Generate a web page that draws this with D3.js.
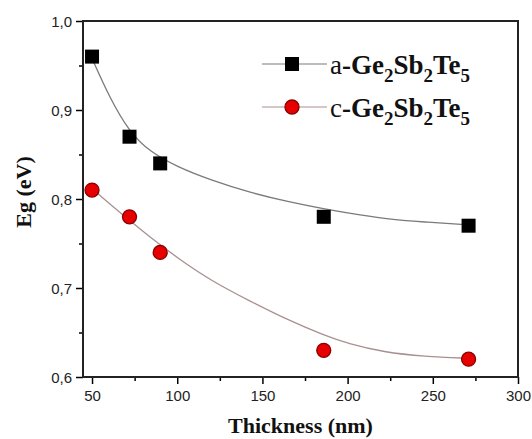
<!DOCTYPE html>
<html lang="en">
<head>
<meta charset="UTF-8">
<title>Eg vs thickness</title>
<script src="https://d3js.org/d3.v7.min.js"></script>
<style>
  body { margin: 0; background: #fff; }
  .tick text { font: 15px "Liberation Sans", Arial, sans-serif; fill: #222; }
  .axis-title { font: bold 22px "Liberation Serif", "Times New Roman", serif; fill: #111; }
  .legend text { font: bold 27px "Liberation Serif", "Times New Roman", serif; fill: #111; }
</style>
</head>
<body>
<div id="chart"></div>
<script>
// measured points
var thickness = [50, 72, 90, 186, 271];
var egAmorphous = [0.96, 0.87, 0.84, 0.78, 0.77];
var egCrystal = [0.81, 0.78, 0.74, 0.63, 0.62];

// fitted curves
var fitThickness = [50, 60, 72, 84, 100, 120, 143, 165, 186, 201, 221, 245, 271];
var fitAmorphous = [0.958, 0.915, 0.875, 0.853, 0.836, 0.821, 0.807, 0.797, 0.789, 0.784, 0.778, 0.774, 0.771];
var fitCrystal = [0.812, 0.795, 0.776, 0.757, 0.734, 0.708, 0.685, 0.664, 0.647, 0.637, 0.628, 0.623, 0.621];

var xTicks = [50, 100, 150, 200, 250, 300];
var yTicks = [0.6, 0.7, 0.8, 0.9, 1.0];

var width = 532, height = 439;
var margin = { top: 21, right: 14, bottom: 62, left: 83 };

var svg = d3.select("#chart").append("svg")
    .attr("width", width)
    .attr("height", height);

var x = d3.scaleLinear().domain([44.7, 300]).range([margin.left, width - margin.right]);
var y = d3.scaleLinear().domain([0.6, 1.0]).range([height - margin.bottom, margin.top]);

var fmt = function(d) { return d3.format(".1f")(d).replace(".", ","); };

// minor ticks
var xMinor = xTicks.slice(0, -1).map(function(d) { return d + 25; });
var yMinor = yTicks.slice(0, -1).map(function(d) { return d + 0.05; });

svg.append("g")
    .attr("transform", "translate(0," + y.range()[0] + ")")
    .call(d3.axisBottom(x).tickValues(xMinor).tickSize(4).tickFormat(""))
    .call(function(g) { g.select(".domain").remove(); g.selectAll("line").attr("stroke-width", 1.5); });

svg.append("g")
    .attr("transform", "translate(" + x.range()[0] + ",0)")
    .call(d3.axisLeft(y).tickValues(yMinor).tickSize(4).tickFormat(""))
    .call(function(g) { g.select(".domain").remove(); g.selectAll("line").attr("stroke-width", 1.5); });

var xAxis = svg.append("g")
    .attr("transform", "translate(0," + y.range()[0] + ")")
    .call(d3.axisBottom(x).tickValues(xTicks).tickSize(7).tickPadding(6).tickSizeOuter(0));
xAxis.select(".domain").remove();
xAxis.selectAll("line").attr("stroke-width", 1.5);

var yAxis = svg.append("g")
    .attr("transform", "translate(" + x.range()[0] + ",0)")
    .call(d3.axisLeft(y).tickValues(yTicks).tickSize(7).tickPadding(4).tickFormat(fmt).tickSizeOuter(0));
yAxis.select(".domain").remove();
yAxis.selectAll("line").attr("stroke-width", 1.5);
yAxis.selectAll("text").attr("dy", "0.36em");

// frame
svg.append("rect")
    .attr("x", x.range()[0])
    .attr("y", y.range()[1])
    .attr("width", x.range()[1] - x.range()[0])
    .attr("height", y.range()[0] - y.range()[1])
    .attr("fill", "none")
    .attr("stroke", "#222")
    .attr("stroke-width", 2);

// fit lines
var line = d3.line()
    .x(function(d) { return x(d[0]); })
    .y(function(d) { return y(d[1]); })
    .curve(d3.curveBasis);

svg.append("path")
    .datum(d3.zip(fitThickness, fitAmorphous))
    .attr("d", line)
    .attr("fill", "none")
    .attr("stroke", "#7a7a7a")
    .attr("stroke-width", 1.3);

svg.append("path")
    .datum(d3.zip(fitThickness, fitCrystal))
    .attr("d", line)
    .attr("fill", "none")
    .attr("stroke", "#a99090")
    .attr("stroke-width", 1.3);

// markers
var sq = 14;
svg.selectAll("rect.a")
    .data(d3.zip(thickness, egAmorphous))
    .enter().append("rect")
    .attr("class", "a")
    .attr("x", function(d) { return x(d[0]) - sq / 2; })
    .attr("y", function(d) { return y(d[1]) - sq / 2; })
    .attr("width", sq)
    .attr("height", sq)
    .attr("fill", "#000");

svg.selectAll("circle.c")
    .data(d3.zip(thickness, egCrystal))
    .enter().append("circle")
    .attr("class", "c")
    .attr("cx", function(d) { return x(d[0]); })
    .attr("cy", function(d) { return y(d[1]); })
    .attr("r", 7)
    .attr("fill", "#e60000")
    .attr("stroke", "#8a0000")
    .attr("stroke-width", 1.3);

// axis titles
svg.append("text")
    .attr("class", "axis-title")
    .attr("x", (x.range()[0] + x.range()[1]) / 2)
    .attr("y", 433)
    .attr("text-anchor", "middle")
    .text("Thickness (nm)");

svg.append("text")
    .attr("class", "axis-title")
    .attr("transform", "translate(31," + 192 + ") rotate(-90)")
    .attr("text-anchor", "middle")
    .text("Eg (eV)");

// legend
var legendItems = [
    { prefix: "a", kind: "square", stroke: "#7a7a7a" },
    { prefix: "c", kind: "circle", stroke: "#a99090" }
];

var legend = svg.append("g").attr("class", "legend");
legendItems.forEach(function(item, i) {
    var cy = 64 + i * 43;
    var g = legend.append("g").attr("transform", "translate(0," + cy + ")");
    g.append("line")
        .attr("x1", 262).attr("x2", 327)
        .attr("y1", 0).attr("y2", 0)
        .attr("stroke", item.stroke)
        .attr("stroke-width", 1.2);
    if (item.kind === "square") {
        g.append("rect").attr("x", 285).attr("y", -7).attr("width", 14).attr("height", 14).attr("fill", "#000");
    } else {
        g.append("circle").attr("cx", 292).attr("cy", 0).attr("r", 7)
            .attr("fill", "#e60000").attr("stroke", "#8a0000").attr("stroke-width", 1.3);
    }
    var t = g.append("text").attr("x", 330).attr("y", 10);
    t.append("tspan").attr("font-weight", "normal").text(item.prefix);
    t.append("tspan").text("-Ge");
    t.append("tspan").attr("dy", 8).attr("font-size", 19).text("2");
    t.append("tspan").attr("dy", -8).text("Sb");
    t.append("tspan").attr("dy", 8).attr("font-size", 19).text("2");
    t.append("tspan").attr("dy", -8).text("Te");
    t.append("tspan").attr("dy", 8).attr("font-size", 19).text("5");
});
</script>
</body>
</html>
